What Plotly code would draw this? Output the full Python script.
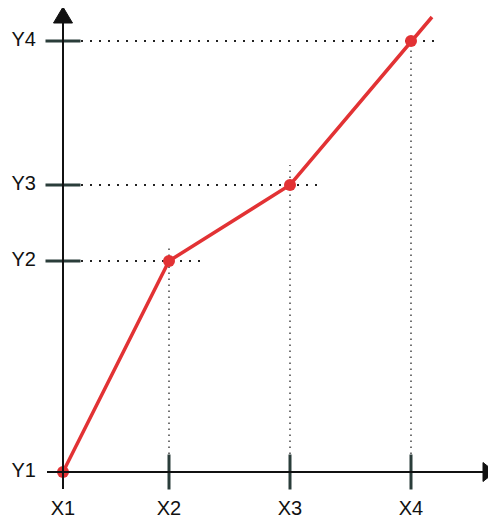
import plotly.graph_objects as go

# data (in chart units)
x_labels = ["X1", "X2", "X3", "X4"]
y_labels = ["Y1", "Y2", "Y3", "Y4"]
x_vals = [0.0, 1.06, 2.27, 3.48]
y_vals = [0.0, 2.11, 2.87, 4.31]
# line continues past the last point
x_ext = 3.69
y_ext = 4.55
# extent of dotted guides
h_guide_end = [None, 1.37, 2.59, 3.76]
v_guide_top = [None, 2.27, 3.07, 4.22]

RED = "#e23234"
TICK = "#2a3d3a"
# page body has an 8px margin, so the figure starts at (8, 8)
X_RANGE = [-0.55, 4.33]
Y_RANGE = [-0.49, 4.64]

fig = go.Figure()

# dotted guides
for i in range(1, 4):
    fig.add_trace(go.Scatter(x=[0, h_guide_end[i]], y=[y_vals[i], y_vals[i]], mode="lines",
                             line=dict(color="#222222", width=2, dash="2px,7px"),
                             hoverinfo="skip", showlegend=False))
    fig.add_trace(go.Scatter(x=[x_vals[i], x_vals[i]], y=[0, v_guide_top[i]], mode="lines",
                             line=dict(color="#444444", width=1.5, dash="1.5px,4.5px"),
                             hoverinfo="skip", showlegend=False))

# axes lines
fig.add_shape(type="line", x0=-0.16, y0=0, x1=4.2, y1=0, line=dict(color="#111111", width=2))
fig.add_shape(type="line", x0=0, y0=-0.17, x1=0, y1=4.5, line=dict(color="#111111", width=2))
# arrowheads
fig.add_shape(type="path", path="M 4.20 0.095 L 4.32 0 L 4.20 -0.095 Z",
              fillcolor="#111111", line=dict(color="#111111", width=1))
fig.add_shape(type="path", path="M -0.095 4.49 L 0 4.65 L 0.095 4.49 Z",
              fillcolor="#111111", line=dict(color="#111111", width=1))

# tick marks
fig.add_trace(go.Scatter(x=x_vals[1:], y=[0] * 3, mode="markers",
                         marker=dict(symbol="line-ns", size=25, line=dict(color=TICK, width=3)),
                         hoverinfo="skip", showlegend=False))
fig.add_trace(go.Scatter(x=[0] * 3, y=y_vals[1:], mode="markers",
                         marker=dict(symbol="line-ew", size=25, line=dict(color=TICK, width=3)),
                         hoverinfo="skip", showlegend=False))

# red line
fig.add_trace(go.Scatter(x=x_vals + [x_ext], y=y_vals + [y_ext], mode="lines",
                         line=dict(color=RED, width=3.5), showlegend=False))
fig.add_trace(go.Scatter(x=x_vals, y=y_vals, mode="markers",
                         marker=dict(color=RED, size=12), showlegend=False))

# tick labels
fig.add_trace(go.Scatter(x=x_vals, y=[-0.38] * 4, mode="text", text=x_labels,
                         textposition="middle center",
                         textfont=dict(family="Liberation Sans, Arial", size=20, color="#111111"),
                         hoverinfo="skip", showlegend=False))
fig.add_trace(go.Scatter(x=[-0.27] * 4, y=y_vals, mode="text", text=y_labels,
                         textposition="middle left",
                         textfont=dict(family="Liberation Sans, Arial", size=20, color="#111111"),
                         hoverinfo="skip", showlegend=False))

fig.update_layout(
    width=488, height=513,
    margin=dict(l=0, r=0, t=0, b=0),
    paper_bgcolor="white", plot_bgcolor="white",
    xaxis=dict(range=X_RANGE, visible=False, fixedrange=True),
    yaxis=dict(range=Y_RANGE, visible=False, fixedrange=True),
)

fig.write_html("out.html")
